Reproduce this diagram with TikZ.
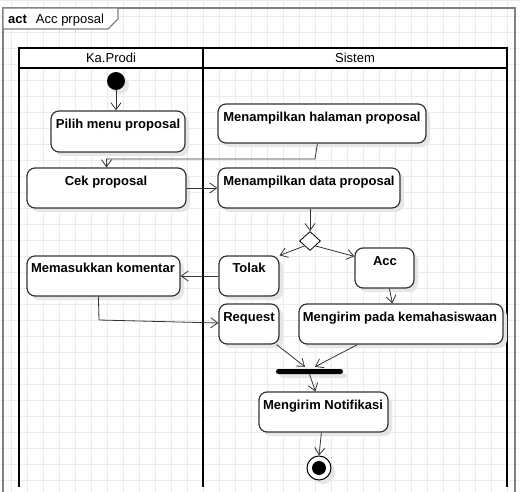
\documentclass[tikz,border=0pt]{standalone}
\usepackage{fontspec}
\setmainfont{Liberation Sans}
\usetikzlibrary{arrows.meta,shadows,shapes.geometric,fit,calc}
\definecolor{gridc}{HTML}{EBEBEB}
\definecolor{framec}{HTML}{808080}
\definecolor{linec}{HTML}{333333}
\definecolor{shadc}{HTML}{E6E6E6}
\begin{document}
\begin{tikzpicture}[x=1pt,y=-1pt,
  every node/.style={font=\fontsize{13}{15}\selectfont},
  shad/.style={drop shadow={shadow xshift=4pt,shadow yshift=-4pt,fill=shadc,opacity=1}},
  actbox/.style={draw=linec,line width=1.2pt,fill=white,rounded corners=8pt,inner sep=0pt,shad},
  acttext/.style={font=\fontsize{13}{15}\selectfont\bfseries,inner sep=0pt,anchor=base},
  lanetext/.style={inner sep=0pt,anchor=base},
  flow/.style={draw=linec,line width=0.8pt,-{Straight Barb[length=7pt,width=10pt]}},
  lane/.style={line width=2pt,draw=black},
  gridl/.style={draw=gridc,line width=0.8pt}]
\useasboundingbox (0,0) rectangle (520,492);
\clip (0,0) rectangle (520,492);
\fill[white] (0,0) rectangle (520,492);
% grid
\foreach \i in {0,...,32} \draw[gridl] (11.5+16*\i,0) -- ++(0,492);
\foreach \j in {0,...,31} \draw[gridl] (0,16*\j) -- ++(520,0);
% frame
\draw[framec,line width=1.6pt] (3,494) -- (3,8) -- (515,8) -- (515,494);
\draw[framec,line width=1.2pt,fill=white] (3,8) -- (118,8) -- (118,19) -- (108,29) -- (3,29) -- cycle;
\node[lanetext] (tabt) at (8,23.5) [anchor=base west] {\textbf{act}\hspace{9pt}Acc prposal};
% swimlanes
\fill[white] (19,48) rectangle (507,68);
\draw[lane] (19,487) -- (19,48) -- (507,48) -- (507,487);
\draw[lane] (19,68) -- (507,68);
\draw[lane] (203,48) -- (203,487);
\node[lanetext] (laneA) at (111,62.5) {Ka.Prodi};
\node[lanetext] (laneB) at (355,62.5) {Sistem};
% initial
\node[circle,fill=black,minimum size=18pt,inner sep=0pt,shad] (init) at (116,81) {};
% actions
\node[actbox,fit={(51,111)(185,152)}] (pilih) {};
\node[acttext] (pilihT) at (118,128.7) {Pilih menu proposal};
\node[actbox,fit={(218,104)(426,143)}] (halaman) {};
\node[acttext] (halamanT) at (322,121.7) {Menampilkan halaman proposal};
\node[actbox,fit={(27,168)(186,208)}] (cek) {};
\node[acttext] (cekT) at (106,185.7) {Cek proposal};
\node[actbox,fit={(218,168)(400,208)}] (data) {};
\node[acttext] (dataT) at (309,185.7) {Menampilkan data proposal};
\node[diamond,draw=black,line width=0.8pt,fill=white,minimum width=21pt,minimum height=19pt,inner sep=0pt] (dia) at (310,241) {};
\node[actbox,fit={(219,256)(279,296)}] (tolak) {};
\node[acttext] (tolakT) at (249,272.7) {Tolak};
\node[actbox,fit={(355,248)(414,288)}] (acc) {};
\node[acttext] (accT) at (385,265.7) {Acc};
\node[actbox,fit={(27,256)(180,296)}] (kom) {};
\node[acttext] (komT) at (103,272.7) {Memasukkan komentar};
\node[actbox,fit={(219,304)(279,344)}] (req) {};
\node[acttext] (reqT) at (249,321.7) {Request};
\node[actbox,fit={(299,304)(503,344)}] (kemah) {};
\node[acttext] (kemahT) at (400,321.7) {Mengirim pada kemahasiswaan};
\node[fill=black,rounded corners=2.5pt,inner sep=0pt,fit={(276,369)(343,374)},shad] (fork) {};
\node[actbox,fit={(259,392)(388,432)}] (notif) {};
\node[acttext] (notifT) at (323,409.7) {Mengirim Notifikasi};
% final
\node[circle,draw=black,line width=1pt,fill=white,minimum size=24pt,inner sep=0pt,shad] (final) at (319,468) {};
\node[circle,fill=black,minimum size=14pt,inner sep=0pt] (finalDot) at (final) {};
% flows
\draw[flow] (init) -- (init |- pilih.north);
\coordinate (b1) at (315,159);
\draw[flow] ($(halaman.south west)+(100,0)$) -- (b1) -- (b1 -| cek.north) -- (cek.north);
\draw[flow] (cek.east) -- (data.west);
\draw[flow] (dia.north |- data.south) -- (dia.north);
\draw[flow] ($(dia.west)!0.5!(dia.south)$) -- (tolak.north east);
\draw[flow] ($(dia.east)!0.5!(dia.south)$) -- ($(acc.north west)+(0,9)$);
\draw[flow] ($(acc.south west)+(35,0)$) -- ($(kemah.north west)+(94,0)$);
\draw[flow] (tolak.west) -- (kom.east);
\coordinate (b2) at (99,320);
\draw[flow] ($(kom.south west)+(72,0)$) -- (b2) -- ($(req.west)+(0,-1)$);
\draw[flow] ($(req.south east)+(-3,0)$) -- ($(fork.north)+(-4.5,-2)$);
\draw[flow] ($(kemah.south west)+(59,0)$) -- ($(fork.north)+(5.5,-2)$);
\draw[flow] (fork.south) -- ($(notif.north west)+(57,0)$);
\draw[flow] ($(notif.south west)+(63,0)$) -- (final.north);
\end{tikzpicture}
\end{document}
